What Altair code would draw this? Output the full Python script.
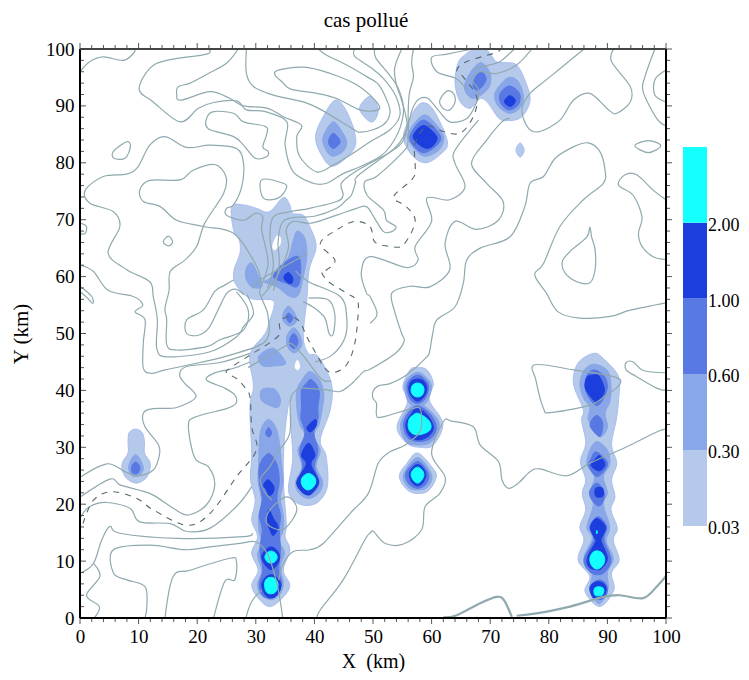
import altair as alt
import pandas as pd

TITLE = "cas pollué"
LEVEL_LABELS = ["0.03", "0.30", "0.60", "1.00", "2.00"]
LEVEL_COLORS = ["#b5c9ea", "#88a6e8", "#5878e4", "#1c3edc", "#14ffff"]
MAJOR = list(range(0, 101, 10))
MINOR = [v for v in range(0, 101, 2) if v % 10]

# ---- open terrain contours (km) ----
C_A = [(0,96),(1.7,97.8),(4,98.6),(7.4,98),(9.1,99.2),(9.4,100)]
C_ALPHA = [(21.9,100),(21.6,99.1),(14.8,98),(11.9,96.6),(10.1,92.9),(12.5,90.7),(17.1,87.2),(20.2,89.6),(22.8,90.6),(26.7,90.9),(28.4,89.3),(31.6,89),(35.3,87.2),(35,83.1),(36.4,78.4),(39.8,76.4),(42.1,76.4),(44.9,78.1),(47.8,79.3),(51.2,81.1),(53,83),(54.6,86.1),(55.2,89.6),(54.3,93.1),(52.6,95.7),(50.5,98.4),(50.3,100)]
C_BETA = [(27,100),(25,97.5),(21.9,95.7),(18.8,94),(16.8,93.4),(16.5,92.2),(17.2,91),(22.2,92.5),(25.6,91.3),(27.9,90),(31.9,89.6),(34.7,88.1),(37.8,86.6),(37,84.6),(37.5,81.1),(40.4,78.4),(43.2,79.6),(46.6,81.7),(49.5,83.7),(52.9,85.8),(54.6,88.4),(53.8,91.9),(51.8,94.8),(49.8,96.6),(46.9,98.7),(46.9,100)]
C_N1 = [(28.4,100),(28.4,95.7),(29.6,93.4),(33,91.9),(38.1,90.7),(41.2,89.3),(46.8,85.8),(47.8,85.4),(50,85.8),(52,86.9),(52.9,88.7),(52.6,90.4),(51,93.7),(49,95.1),(45.5,97.2),(42.1,98.9),(40.7,100)]
C_TOWER1 = [(54.9,100),(53.7,96.6),(54,93.7),(54.8,91.3),(55.8,87),(55.2,84),(53.1,82),(46.9,78.4),(44.6,76.4),(44.9,74.3),(43.8,73.2),(39.2,72),(35.8,71.4),(33,70.5),(32.4,67),(33,62),(32,58)]
C_TOWER2 = [(77.1,100),(74.5,97.2),(71.1,95.7),(68.3,96),(66.8,94.8),(68,92.8),(67.7,90.7),(66,87.8),(63.1,87.2),(61.1,89.3),(59.4,91.3),(58,91.3),(56.9,89.9),(56.2,87.5),(55.4,85),(53.6,82.5),(47.5,77.8),(47,76.4),(46.3,74.3),(45.5,73.5),(43.8,72),(40,70.6),(36.5,70.4),(34.5,69.5),(33.8,66),(34,62),(33,57.5)]
C_TOWER3 = [(56.9,100),(56.6,97.5),(56.9,95.1),(56.2,92.2),(56,88.7),(56,84),(55.2,82),(50.6,77.6),(48.6,76.7),(49,74.3),(51.8,71.7),(52.3,69.9),(53.9,68.8),(53.2,67.9),(51.8,67.9),(50.3,70.2),(48.9,72.3),(47.2,72),(43.8,70.8),(39.5,69.4),(36.4,69.7),(35.2,68.2),(35.6,65.3),(34.7,62.3),(33,59),(31,56.5)]
C_DELTA = [(0.1,62),(2.3,60.9),(4.8,57.6),(9.1,56.5),(10.7,55),(9.4,53.8),(11.1,52.4),(10.8,48.3),(10.8,43.9),(12.2,43),(14.5,43.6),(20.5,44.9),(25.6,46.2),(31.6,48.6),(32.1,53),(31,56.2),(30.7,57.6),(32.1,62.3),(31,68.2),(31.2,70.5),(29.9,71.1),(27.9,69.9),(25,70.8),(25,72),(26.2,72.6),(27.6,75.8),(27.9,79.9),(26.7,82.5),(22.2,83.1),(18.2,82.7),(14.5,84.6),(11.9,83.1),(9.9,79.3),(7.9,78),(4,77.6),(0.9,75.2),(1.7,72.9),(5.7,71.4),(6.8,68.8),(4.8,64.1),(8,61.2),(11.9,59.1),(12.5,56.5),(13.2,52.4),(13.1,47.4),(14.8,45.9),(22.2,46.8),(26.7,49.4),(27.9,51.2),(29.6,53.5),(28.5,56.8)]
C_EPSILON = [(26.7,57.3),(28.7,54.1),(27.9,50.6),(23.9,48.9),(21.6,47.7),(16.5,47.1),(14.8,48),(14.8,52.4),(14.5,54.4),(15.2,57.6),(15.4,60.9),(17.9,62.9),(19.9,65.3),(21.3,69.4),(24.5,74.6),(24.9,77.6),(23,79.7),(19.3,78.7),(17.1,77),(11.9,76.9),(10.2,75.2),(10.8,73.2),(13.7,72.3),(16.5,69.9),(21,68.8),(26.2,67.6),(29.9,62.3),(31,58.8)]
C_U = [(26.2,59.4),(24.7,58.5),(23,57.4),(21,54.1),(18.2,52.4),(18.2,50),(20.2,49.7),(22,51),(23.5,54),(25,57),(26.5,57.8),(28,56.8)]
C_LAMBDA = [(0.1,21.3),(5.1,24.4),(6.8,23.4),(9.95,22.5),(12.5,21.6),(15.9,19.3),(18.5,18.1),(21.6,19.9),(23,23.4),(21.9,26.6),(19.6,28.1),(18.5,33.9),(19.9,35.4),(25,36.8),(26.6,37.7),(26.4,39.2),(24.7,40.4),(21.6,41.8),(22.8,43),(26.2,43.9),(29,45)]
C_KAPPA = [(0.1,24.8),(4.6,27.1),(7.7,25.7),(9.9,25),(12.5,26),(13.5,28.4),(13.4,30.4),(11.1,33.6),(10.8,36),(12.5,36.8),(16.5,37),(19.8,38.9),(17.9,41.2),(17,42.7),(18.2,44.2),(23.9,44.9),(29,46.5)]
C_B = [(0.1,17.8),(1.7,19.6),(4.5,20.3),(8.5,19.3),(10.2,16.9),(15.4,16.6),(18.2,15.2),(22.2,15.8),(26.7,19.6),(29.3,23.1)]
C_F = [(0.1,7.9),(2.3,9.6),(3.7,13.7),(5.1,16.1),(6.8,14.9),(16.5,14),(27.9,14.3),(29.3,14.9)]
C_G = [(2.4,0),(3.3,2),(1.1,4),(3.4,7.3),(2.3,9.6)]
C_D = [(11.1,0),(11.4,2),(11.1,5.5),(8,6.7),(5.7,7.9),(5.7,12),(11.9,12.8),(17.9,12),(22.2,12.5),(27.3,13.1),(29.9,13.4),(31.9,11.4),(33.6,6.1),(34.6,0)]
C_E = [(14.5,0),(15.9,7.3),(18.8,8.4),(25.6,10.5),(26.7,9.9),(26.4,6.7),(24.7,6.4),(22.8,0)]
C_H = [(28.3,0),(29.3,2.9),(31,4.9)]
C_BIG = [(100,55.4),(93.9,54.1),(90.5,53),(85.3,52.7),(81.6,53.8),(79.6,57.1),(77.6,60.3),(79.1,62.3),(81.9,68.8),(85.9,73.5),(89.3,76.4),(89.6,78.7),(88.7,82),(86.7,83.5),(84.2,82.8),(81.1,80.8),(79.1,77.6),(76.8,76.4),(75.9,72.3),(73.4,67),(68.3,65),(66,62.9),(65.4,58.8),(64,54.7),(60.9,52.4),(60.2,50),(59.7,47.1),(59.2,45.9),(55.7,42.7),(52.9,41.2),(50.9,40.8),(50,39.8),(50,38.6),(50.6,37.7),(50.6,35.7),(51.5,35.3),(56.6,36.8),(58,36.8),(58.3,34.8),(58,32.7),(55.5,30.4),(52.9,29.2),(50.9,27.2),(49.2,21.9),(46.1,18.4),(41.5,13.1),(39.2,12),(36.4,11.7),(34.7,9.6),(33.9,6.7)]
C_R = [(100,33.2),(98.4,32.7),(93.3,30.1),(87,27.2),(83.1,25),(78.5,26.2),(76.8,25.7),(74.8,23.7),(73.1,22.8),(72,24.3),(71.4,27.5),(68.3,30.4),(67.1,33.6),(63.4,34.6),(62,34.5),(60,28.9),(62.3,24.8),(61.4,21.9),(58.9,19.6),(58.3,15.5),(55.2,13),(52.1,13.1),(50.1,15.2),(49.5,14.9),(48.6,13.7),(44.9,6.7),(41,1.4),(40.5,0)]
C_Z4R = [(100,43.1),(96.1,43.5),(94.4,45),(93.2,44.9),(93.2,43.6),(95,42.4),(98.4,40.4),(100,40)]
C_TOPR = [(86,100),(80.2,95.1),(76.8,92.2),(75.4,89.3),(76.5,86.1),(78.5,85.5),(81.9,87.5),(84.2,91),(87,92.2),(90.2,89.3),(91.6,88.7),(93.9,90.7),(93.9,93.4),(90.7,97.8),(91.1,100)]
C_TR2 = [(98.1,100),(96.4,95.1),(96.1,92.5),(98.4,87.8),(100,86.5)]
C_TR3 = [(100,96.3),(98.1,94.6),(98.1,91.9),(100,90.7)]
C_RM = [(100,73.5),(97.8,75.2),(95,77.9),(93,77.9),(91.9,76.1),(94.4,74.3),(95.9,70.5),(95.3,67.6),(95.9,65.3),(97.8,63.5),(100,63)]
C_M = [(73.4,87.8),(72,87.2),(69.4,84),(66.8,79.9),(69.4,76.4),(72.2,73.2),(71.4,69.9),(67.7,68.3),(64,69.7),(62.3,65.8),(63.1,61.2),(59.7,58.2),(56.3,58.3),(53.2,57.1),(53.8,53.5),(54.9,50),(55.3,48.6),(53.8,46.5),(49.5,43.7),(48.4,43.3),(46.4,41.2),(44.4,39.8),(42.1,40.1),(38.1,40.4),(37,40.1),(35.9,38.3),(35.8,32.5),(33.8,29.2),(32.4,26.6),(30.8,24.5),(31.3,22.5),(32.7,20.7)]
C_N = [(68,87.5),(64,82.2),(64,79.9),(65.7,75.8),(63.1,73.5),(59.2,73.8),(60,69.7),(57.2,65.3),(57.7,62.9),(55.7,61.6),(49.5,63.5),(48,60.6),(48.9,57.1),(49.5,56.5),(50.7,53.5),(49.5,51.8)]
C_T = [(67.1,100),(62.6,99.1),(60,98.5),(60.9,96),(64.2,94.8),(66,92.8)]
C_V = [(74.1,100),(71.7,97.8),(69.9,97.2),(67.1,96.5)]
C_R1 = [(40.1,45),(43,46.2),(45.2,49.2),(45.5,53),(44.4,56.5),(39,59.1),(36.8,61)]
C_R2 = [(38.1,55.6),(40.1,54.4),(41.8,52.7),(42.5,50),(43.2,49.9),(43.5,53.3),(42.4,55.9),(39,56.2)]
C_R3 = [(38.8,64),(34.7,61.7),(30.7,59.4),(29.3,57.9)]
C_Z3 = [(28.7,44),(34.7,47.6),(36.1,48.2),(38.1,46.1),(41.2,42),(42.9,41.7)]
C_LEFT1 = [(0.1,69.4),(1.1,68.8),(0.9,67.6),(0.1,67.5)]
C_LEFT2 = [(0.1,58.2),(2,56.5),(2.2,55.3),(1.2,56.3),(0.1,57.3)]
OPEN_CONTOURS = [C_A,C_ALPHA,C_BETA,C_N1,C_TOWER1,C_TOWER2,C_TOWER3,C_DELTA,C_EPSILON,C_U,C_LAMBDA,C_KAPPA,C_B,C_F,C_G,C_D,C_E,C_H,C_BIG,C_R,C_Z4R,C_TOPR,C_TR2,C_TR3,C_RM,C_M,C_N,C_T,C_V,C_R1,C_R2,C_R3,C_Z3,C_LEFT1,C_LEFT2]

# ---- closed contours ----
L_1 = [(33.3,96),(38.1,96.8),(42.7,95.7),(47.2,93.7),(50.6,90.7),(50.9,89.3),(47.8,89.3),(43.8,91.3),(40.4,92.2),(36.1,92.9),(34.7,94)]
L_2 = [(21.6,87.8),(22.8,89),(26.2,88.7),(27.9,87.2),(31.6,86.4),(31.9,85.2),(31.2,82.8),(32.1,82),(31.9,81.1),(29.9,80.8),(27.9,83.1),(26.2,84.6),(21.9,86)]
L_3 = [(5.7,82),(8,83.7),(8.6,82.8),(7.7,80.8),(5.8,80.8)]
L_4 = [(31,77),(34.7,76.4),(35.2,75.5),(33.8,73.8),(31.3,73.8)]
L_5 = [(14.2,66.1),(15.1,67.1),(15.8,66.1),(15.1,65.4)]
L_6 = [(61.4,91),(62.6,92.6),(63.7,92.2),(64,90.7),(63.1,89.3),(61.9,89.6)]
L_7 = [(94.7,83),(97,83.9),(99.1,83),(97,81.8)]
L_8 = [(87,68.7),(87.3,67),(87.9,64.7),(87.9,61.2),(87,58.9),(84.8,59.1),(82.8,60.6),(82.3,62.6),(83.6,64.4),(86.5,67)]
L_9 = [(77.6,44.5),(84.2,43.6),(92.2,41.9),(88.7,38.3),(85.9,37.1),(80.2,36.1),(79.1,36.8),(77.8,41.8)]
L_10 = [(35.3,21.3),(37,19),(34.7,15.6),(31.9,16.6),(32.4,19)]
CLOSED_CONTOURS = [L_1,L_2,L_3,L_4,L_5,L_6,L_7,L_8,L_9,L_10]

# ---- coast ----
COAST_1 = [(62,0.1),(64.3,0.5),(68.3,2.6),(71.1,3.7),(72.3,3.2),(73.7,0.2)]
COAST_2 = [(74.5,0.4),(77.9,0.8),(83.6,2),(89.3,3.7),(92.1,4),(96.1,3.5),(98.4,5.5),(100,7.4)]
COASTS = [COAST_1, COAST_2]

# ---- dashed contour ----
DASHED = [(0.5,16.6),(2.3,20.7),(5.4,22.2),(9.7,21),(12.5,19),(18.2,16.3),(22.2,18.4),(26.7,24.8),(30.1,29.5),(29.3,33.6),(29,38.9),(28,40.7),(26.7,42.1),(25,43.1),(25.6,43.9),(29,46.2),(32.7,48.6),(34.1,50),(34.1,52.1),(35.8,53),(37.5,52.1),(38.7,49.4),(40.1,46.8),(41.8,43.9),(43.2,43.1),(45.5,44.5),(46.9,48.3),(47.5,54.1),(47.2,55.9),(45.5,57.1),(42.4,59.1),(41.2,60.9),(42.1,61.2),(43.5,62.9),(41,65.8),(43.8,68.2),(46.9,69.7),(49.5,68.8),(50.3,66.1),(52.9,65.3),(55.2,65.6),(57.2,69.7),(55.7,72.3),(53.5,74),(56.6,77),(57.2,78.7),(57.2,83.4),(59.2,86.4),(62,85.5),(64.9,85.2),(67.1,88.1),(67.7,91.6),(65.4,95.1),(64.3,96.3),(66,97.8),(70.5,99.2),(71.7,99.8)]

# ---- plume level 1 (0.03-0.30) ----
P1_BIG = [(25.9,72.3),(27.9,72.6),(30.1,72),(32.3,71.4),(34.7,73.9),(35.8,72.6),(36.3,71.1),(38.1,70.8),(39.2,68.8),(40.3,65.3),(39.1,61.2),(38.7,55.9),(38.1,49.4),(39,46.5),(40.7,45.9),(42.9,41.2),(42.7,36.6),(41,31.3),(42,28.4),(42.2,23.1),(40.4,20.2),(37.5,20),(35.6,22.2),(36.3,27.8),(36.1,32.2),(35.8,38.3),(34.9,31.9),(34.7,24.3),(35.2,16.6),(35,14.3),(35.8,12),(34.7,8.4),(35.8,5.8),(34.7,3.7),(32.4,2),(30.4,3.5),(29.3,5.8),(30.4,8.4),(29.3,11.4),(30.3,14.3),(29.3,17.2),(29.9,20.7),(29.1,24.3),(29.3,28.9),(29,37.1),(29.6,40.7),(29,44.8),(29.3,47.1),(31.6,50),(32.4,52.4),(33.1,54.7),(32.7,55.9),(29,56.2),(26.5,58.8),(26.3,61.2),(27.3,64.1),(27.2,66.4),(26.2,68.2)]
P1_10 = [(9.5,33.2),(10.6,32.6),(11,31),(11,29),(11.9,27.5),(11.9,26),(11.2,24.5),(9.6,23.7),(8,24.5),(7.2,26),(7.3,27.5),(8.2,29),(8.2,31),(8.4,32.6)]
P1_58A = [(57.6,44),(59.2,43.6),(60.3,41.2),(59.6,38.3),(61.9,34.2),(60.3,30.4),(58,30),(55.8,30.7),(54.1,33.6),(55.9,38),(55.1,40.7),(56.3,43.6)]
P1_58B = [(57.6,29),(60,26.6),(60.8,24.8),(59.2,22.2),(56.3,22.2),(54.5,24.8),(55.8,27.2)]
P1_88 = [(87.6,46.5),(89.3,45.6),(91.9,42.4),(91.9,38.3),(91.5,34.8),(90.7,30.4),(91.6,27.2),(90.7,24.3),(91.3,21.3),(90.6,19),(91.7,15.8),(91,13.7),(92,10.2),(90.7,7.9),(91.1,4.9),(88.7,2),(86.2,4.6),(87,7.3),(85,10.2),(86,13.7),(85.3,16),(86.3,19),(85.7,21.9),(86.3,24.3),(85.4,27.5),(86.3,30.7),(85.6,34.8),(85.9,36.6),(84.2,41.2),(85,44.8)]
P1_58T = [(58.3,90.5),(60.3,89.3),(62.7,83.7),(61.4,81.4),(58.9,80),(56.6,81.4),(55.2,84.6),(56.6,88.4)]
P1_70 = [(67.1,99.8),(69.4,99.8),(71,97.8),(72.8,97.6),(74.5,97.2),(75.9,94.6),(76.8,91),(75.3,88),(72.8,87.4),(71.4,87.9),(69.7,90.4),(68.3,91.3),(66.6,89.6),(64.9,90.7),(64,93.9),(64.5,97.5),(65.7,99)]
P1_75 = [(75.1,83.5),(75.8,82.2),(75.1,81),(74.4,82.2)]
P1_44 = [(43.5,91),(45.2,89.6),(46.9,85.2),(46.6,82.2),(43.2,79.4),(41.2,81.4),(40.2,84.6),(41.5,88.1)]
P1_50 = [(49.5,91.7),(50.9,89.6),(50.3,87.5),(49.2,87.4),(47.7,89.6)]
LEVEL1 = [P1_BIG,P1_10,P1_58A,P1_58B,P1_88,P1_58T,P1_70,P1_75,P1_44,P1_50]

HOLE_1 = [(32.9,65.5),(33.6,67.1),(34.2,66.8),(34.1,65.6),(33.2,64.7)]
HOLE_2 = [(37.1,45.3),(37.5,44.2),(37.1,43.6),(36.7,44.2)]
HOLES = [HOLE_1, HOLE_2]

# ---- plume level 2 (0.30-0.60) ----
P2 = [
 [(37.1,68),(38.4,66.7),(38.7,63.5),(38.1,60),(37.3,56.8),(35.8,56.5),(33.6,58.2),(31.3,59.1),(32.4,59.7),(35.3,62.9),(36.4,66.4)],
 [(29.3,62.4),(30.4,60.3),(31,58.2),(29.3,58.2),(28.3,59.7),(28.4,61.5)],
 [(35.6,54.8),(36.6,53.6),(37,52.2),(35.8,51.3),(34.7,52.2),(34.7,53.6)],
 [(36.5,51),(37.6,49.5),(37.8,47.8),(36.6,46.6),(35.5,47.5),(35.3,49.5)],
 [(33,47.4),(34.6,45.8),(35,44.6),(33,44.3),(31.2,44.3),(30.4,45.6),(31.2,46.7)],
 [(31.3,40.3),(33.2,40.2),(34.2,38.5),(33.8,37),(32.5,37.3),(31,38.2),(30.8,39.5)],
 [(32.2,34.9),(33.4,33.5),(34,31),(34.4,27),(34.7,24),(34.2,21),(34.7,18),(34.7,15.5),(34,13.5),(34.9,11.5),(34.2,9),(34.7,6),(34,4),(32.5,3.2),(30.8,4.2),(30.3,6),(31,8.3),(30.3,11),(31,13.3),(30.5,15.5),(30.5,18),(31,20.5),(30.4,24),(30.5,27),(30.6,31),(31,33.5)],
 [(39.2,43.3),(40.8,42),(41.6,39.5),(41.3,36.5),(40.8,34),(39.9,32),(41,29.5),(40.3,26.6),(41.4,24),(40.8,22),(39,21),(37.3,22),(36.8,24),(37.9,26.6),(37.2,29.5),(38.4,32),(37.5,34),(37,37),(37,40),(38,42)],
 [(9.5,28.7),(10.4,27.6),(10.8,26.2),(10.2,25.1),(9.5,24.9),(8.8,25.1),(8.3,26.2),(8.6,27.6)],
 [(57.6,43.2),(59.2,42.2),(60,40.6),(59.2,38),(57.6,37),(56,38),(55.4,40.6),(56,42.2)],
 [(57.6,37.8),(60.2,36),(61.3,33.8),(60,31),(57.8,30.4),(55.6,31),(54.7,33.8),(55.7,36.2)],
 [(57.6,28.2),(60,25.2),(59.3,23),(57.6,22.5),(56,23),(55.2,25.2)],
 [(87.7,44.6),(90,43.5),(90.6,41),(90.4,38),(89.6,36),(90,33.5),(88.8,31.8),(87.6,33.5),(86.7,35),(87,37),(86,38.5),(85.3,41),(86,43.5)],
 [(88.2,31),(90,29.5),(90.4,27),(89.3,24.8),(90,22),(89.3,20),(90.4,16),(89.8,13.5),(91,10.5),(90,8),(90.1,5),(88.6,2.5),(87,5),(87.4,7.8),(86,10.5),(87.4,14),(86.5,16),(87.6,19.8),(87.2,22.5),(87.8,24.8),(86.5,27),(87,29.5)],
 [(58.6,88.4),(60.9,86.6),(62.1,84.3),(61.1,82.1),(58.6,81.2),(56.6,83.1),(56,85.2)],
 [(68.4,97.6),(70,95.7),(69.7,93.1),(67.1,91.3),(65.6,93.1),(66.5,95.7)],
 [(72.8,94.8),(74.5,94.6),(75.6,92.2),(75.3,89.9),(73.4,88.7),(71.4,89.9),(70.8,92.2)],
 [(43.2,87.2),(44.7,85.5),(45.5,83.7),(44.9,82),(42.9,81.2),(41.6,83.1),(41.6,84.9)],
]

# ---- plume level 3 (0.60-1.00) ----
P3 = [
 [(37.3,63.5),(37.6,60),(37,58.2),(35.3,58.8),(33,60),(34.7,62.3)],
 [(35.6,53.6),(36.3,52.8),(35.8,51.9),(35.2,52.8)],
 [(36.5,50),(37.2,48.7),(36.7,47.4),(35.9,47.8),(35.8,49)],
 [(32.2,28.9),(33.6,27),(34,24),(33.6,21),(34.2,18),(34,15.5),(34.2,12),(33.9,8.5),(34.4,6),(33.6,4),(32.3,3.5),(31.1,4),(30.6,6),(31.2,8.5),(30.7,12),(31.1,15.5),(30.6,18),(31.1,21),(30.6,24),(30.7,27)],
 [(32.2,33.5),(32.7,32.5),(32.2,31.8),(31.7,32.5)],
 [(39.5,41.9),(40.8,40),(40.6,37),(40.6,35),(39.9,32.5),(40.6,29.5),(40,26.6),(40.8,24),(40,22.2),(39,21.8),(37.9,22.2),(37.3,24),(38,26.6),(37.5,29.5),(38.4,32.5),(37.7,35),(37.8,37),(37.8,40),(38.6,41.2)],
 [(9.5,27.4),(10.2,26.6),(10,25.6),(9.5,25.3),(8.9,25.6),(8.8,26.6)],
 [(57.6,42.7),(59,41.8),(59.5,40.4),(58.8,38.4),(57.6,37.7),(56.4,38.4),(55.8,40.4),(56.2,41.8)],
 [(57.6,37.3),(59.8,35.8),(60.8,33.5),(59.9,31.6),(57.8,31),(55.9,31.7),(55.2,34),(56,36)],
 [(57.6,27.5),(59.4,25.5),(59.1,23.6),(57.6,22.8),(56.1,23.6),(55.6,25.5)],
 [(87.7,43.6),(89.4,42.6),(90,40.5),(89,38),(88,37.4),(86.8,38.8),(86.2,40.5),(86.5,42.6)],
 [(88.3,35.6),(89.2,34.2),(88.7,31.9),(87.1,33.6),(87.4,34.9)],
 [(88,29.2),(89.6,28),(90,26.8),(88.9,25.2),(87.9,25),(86.8,26.8),(87.2,28)],
 [(88.3,23.7),(89.5,21.8),(89,20),(88.2,19.8),(87.2,21),(87,22.4)],
 [(88.4,17.8),(89.9,16),(89.4,13.8),(90.6,10.3),(89.7,8.2),(88.3,7.6),(86.9,8.2),(86,10.3),(87.7,13.8),(87,16)],
 [(88.6,6.7),(89.7,6.1),(90,4.8),(89.6,3.7),(88.7,3.3),(87.8,3.7),(87.3,4.8),(87.6,6.1)],
 [(58.7,87.5),(61.6,84.3),(58.9,81.8),(56.8,83.1),(56.4,85)],
 [(68.5,96),(69.3,94.6),(68,92.8),(67.1,93.4),(67.4,94.9)],
 [(73.3,93.5),(75,92.2),(74.8,90.2),(73.1,89.3),(71.8,90.5),(71.7,92.2)],
 [(43.2,85.2),(44.4,83.7),(43.2,82.5),(42.4,83.7)],
]

# ---- plume level 4 (1.00-2.00) ----
P4 = [
 [(35.6,60.7),(36.3,59.7),(36.1,58.8),(35.2,59.1),(34.8,60)],
 [(32.1,24.3),(33.1,23),(32.8,21.8),(32.2,21.6),(31.8,22.6),(31.3,23.3)],
 [(32.2,19),(33,17.5),(33.8,16),(33,14.5),(32.4,15.5),(32,17)],
 [(32.6,12.5),(33.6,11.9),(34.1,10.7),(33.6,9.3),(32.6,8.5),(31.6,9.3),(31,10.7),(31.6,11.9)],
 [(32.6,7.6),(33.7,7),(34.3,5.7),(33.7,4.1),(32.6,3.5),(31.6,4.1),(31,5.7),(31.5,7)],
 [(40.2,34.9),(40.3,33.8),(39.3,32.7),(38.7,33.4),(39.3,34.2)],
 [(39,30.7),(40.1,28.6),(39.4,27),(40.7,24),(39.8,22.2),(39,21.6),(37.8,22.2),(37,24),(38.6,27),(37.8,28.6)],
 [(57.6,42),(58.7,41.6),(59.2,40.3),(58.7,38.9),(57.6,38.1),(56.6,38.9),(56.1,40.3),(56.5,41.6)],
 [(57.6,36.9),(59.4,35.5),(60.3,33.5),(59.5,32),(57.8,31.3),(56.2,32),(55.6,34),(56.4,35.7)],
 [(57.6,27),(58.5,26.4),(59,25.3),(58.6,23.9),(57.6,23.2),(56.6,23.9),(56.2,25.3),(56.7,26.4)],
 [(87.6,42.7),(88.6,42.5),(89.5,40),(88.5,38.2),(88,38),(87.2,38.8),(86.2,40.5),(86.5,42.3)],
 [(88.7,28.5),(89.6,27),(88.8,25.9),(87.8,26.2),(87.2,27),(88,28)],
 [(88,22.8),(89.2,22.8),(89.2,21.4),(88,21.4)],
 [(88.2,17.5),(89.7,16),(89,14),(89,13.3),(90,10.5),(89,8.7),(88,8.5),(86.8,9),(86.6,10.7),(88,13.4),(87.8,14),(87.1,16)],
 [(88.4,6.4),(89.4,6),(89.8,5),(89.2,3.5),(88.4,3.4),(87.6,3.5),(87,5),(87.4,6)],
 [(58.9,86.5),(60.9,84.5),(60,82.8),(58.6,82.7),(56.9,84.3),(57.5,85.8)],
 [(73.3,91.8),(74.3,91),(73.5,89.9),(72.4,90.7)],
]

# ---- plume level 5 (> 2.00) ----
P5 = [
 [(32.6,11.75),(33.3,11.45),(33.65,10.7),(33.3,9.95),(32.6,9.65),(31.9,9.95),(31.55,10.7),(31.9,11.45)],
 [(32.5,7.15),(33.4,6.8),(33.8,5.8),(33.4,4.6),(32.5,4.25),(31.8,4.6),(31.5,5.7),(31.7,6.7)],
 [(39,25.4),(39.9,24.9),(40.25,24),(39.8,23),(38.9,22.5),(38.1,23),(37.75,24),(38.1,24.9)],
 [(57.6,41.3),(58.4,40.95),(58.7,40.1),(58.4,39.2),(57.6,38.85),(56.8,39.2),(56.5,40.1),(56.8,40.95)],
 [(57.5,36),(58.6,35.5),(59.6,34.6),(59.9,33.5),(59.3,32.7),(57.8,32.2),(56.6,32.5),(56,33.6),(56.2,35),(56.8,35.6)],
 [(57.6,26.5),(58.3,26.1),(58.7,25.2),(58.3,24.2),(57.6,23.7),(56.9,24.2),(56.5,25.2),(56.9,26.1)],
 [(88.2,11.8),(89.1,11.4),(89.55,10.3),(89.1,9.1),(88.2,8.6),(87.4,9.1),(87,10.3),(87.4,11.4)],
 [(88.2,15.4),(88.3,15),(88.2,14.8),(88.1,15)],
 [(88.5,5.5),(89.2,5.3),(89.4,4.7),(89.1,4),(88.5,3.9),(87.9,4),(87.7,4.7),(87.9,5.3)],
]


def table(paths):
    rows = []
    for pid, path in enumerate(paths):
        for i, (x, y) in enumerate(path):
            rows.append({"id": pid, "i": i, "x": x, "y": y})
    return pd.DataFrame(rows)


FONT = "Liberation Serif"
XS = alt.Scale(domain=[0, 100], nice=False, zero=False)
YS = alt.Scale(domain=[0, 100], nice=False, zero=False)
X = alt.X("x:Q", scale=XS, axis=None)
Y = alt.Y("y:Q", scale=YS, axis=None)


def paths_layer(paths, **mark):
    return alt.Chart(table(paths)).mark_line(**mark).encode(
        x=X, y=Y, detail="id:N", order="i:Q"
    )


def fill_layer(paths, color, stroke=None, interp="cardinal-closed"):
    return paths_layer(paths, fill=color, stroke=stroke or color,
                       strokeWidth=1, interpolate=interp, clip=True)


CONTOUR = "#8fa9af"
layers = [
    fill_layer(LEVEL1, LEVEL_COLORS[0], stroke="#a9bdf2"),
    fill_layer(HOLES, "#ffffff"),
    fill_layer(P2, LEVEL_COLORS[1]),
    fill_layer(P3, LEVEL_COLORS[2]),
    fill_layer(P4, LEVEL_COLORS[3]),
    fill_layer(P5, LEVEL_COLORS[4]),
    paths_layer(OPEN_CONTOURS, stroke=CONTOUR, strokeWidth=1.2, interpolate="cardinal", clip=True),
    paths_layer(CLOSED_CONTOURS, stroke=CONTOUR, strokeWidth=1.2, interpolate="cardinal-closed", clip=True),
    paths_layer(COASTS, stroke=CONTOUR, strokeWidth=2.2, interpolate="cardinal", clip=True),
    paths_layer([DASHED], stroke="#56696e", strokeWidth=1.1, strokeDash=[6, 6], interpolate="cardinal", clip=True),
]

major_df = pd.DataFrame({"v": MAJOR})
minor_df = pd.DataFrame({"v": MINOR})
VX = alt.X("v:Q", scale=XS, axis=None)
VY = alt.Y("v:Q", scale=YS, axis=None)
TICK = "#555555"
W, H = 586, 569
for df, size in ((major_df, 6), (minor_df, 4)):
    layers.append(alt.Chart(df).mark_rule(color=TICK, strokeWidth=1).encode(x=VX, y=alt.value(H), y2=alt.value(H + size)))
    layers.append(alt.Chart(df).mark_rule(color=TICK, strokeWidth=1).encode(x=VX, y=alt.value(0), y2=alt.value(-size)))
    layers.append(alt.Chart(df).mark_rule(color=TICK, strokeWidth=1).encode(y=VY, x=alt.value(0), x2=alt.value(size)))
    layers.append(alt.Chart(df).mark_rule(color=TICK, strokeWidth=1).encode(y=VY, x=alt.value(W), x2=alt.value(W + size)))

layers.append(alt.Chart(major_df).mark_rule(color="#000000", strokeWidth=1.6).encode(x=alt.value(0), y=alt.value(0), y2=alt.value(H)))
layers.append(alt.Chart(major_df).mark_rule(color="#000000", strokeWidth=1.6).encode(x=alt.value(W), y=alt.value(0), y2=alt.value(H)))
layers.append(alt.Chart(major_df).mark_rule(color="#000000", strokeWidth=1.6).encode(y=alt.value(H), x=alt.value(0), x2=alt.value(W)))
layers.append(alt.Chart(major_df).mark_rule(color="#444444", strokeWidth=1.6).encode(y=alt.value(0), x=alt.value(0), x2=alt.value(W)))

main = alt.layer(*layers)

# axes with labels only (own layer at the outer level, same domain)
axes = alt.Chart(major_df).mark_point(opacity=0).encode(
    x=alt.X("v:Q", scale=XS, axis=alt.Axis(values=MAJOR, format="d", ticks=False, domain=False, grid=False,
                                           labelFont=FONT, labelFontSize=19, labelColor="#000000", labelPadding=9,
                                           labelFlush=False, labelOverlap=False, title="X \u00a0(km)", titleFont=FONT,
                                           titleFontSize=20, titleFontWeight="normal", titleColor="#000000", titlePadding=5)),
    y=alt.Y("v:Q", scale=YS, axis=alt.Axis(values=MAJOR, format="d", ticks=False, domain=False, grid=False,
                                           labelFont=FONT, labelFontSize=19, labelColor="#000000", labelPadding=6,
                                           labelFlush=False, labelOverlap=False, title="Y (km)", titleFont=FONT,
                                           titleFontSize=21, titleFontWeight="normal", titleColor="#000000", titlePadding=14)),
)

# colour bar
bar_df = pd.DataFrame({"lo": [0, 1, 2, 3, 4], "hi": [1, 2, 3, 4, 5], "c": LEVEL_COLORS, "label": LEVEL_LABELS})
BAR_Y = alt.Scale(domain=[0, 5], range=[477, 98], nice=False, zero=False)
bar = alt.Chart(bar_df).mark_rect().encode(
    x=alt.value(603), x2=alt.value(627),
    y=alt.Y("lo:Q", scale=BAR_Y, axis=None), y2="hi:Q",
    fill=alt.Fill("c:N", scale=None),
)
bar_text = alt.Chart(bar_df).mark_text(font=FONT, fontSize=18, align="left", baseline="middle", color="#000000", dy=3).encode(
    x=alt.value(628), y=alt.Y("lo:Q", scale=BAR_Y, axis=None), text="label:N"
)

chart = alt.layer(main, axes, bar, bar_text).resolve_scale(y="independent", x="independent").properties(
    width=W, height=H,
    title=alt.TitleParams(TITLE, font=FONT, fontSize=21, fontWeight="normal", color="#000000", dx=-7, offset=9),
    padding={"left": 72, "top": 41, "right": 75, "bottom": 54},
    autosize=alt.AutoSizeParams(type="none"),
).configure_view(stroke=None)

chart.save("out.html", embed_options={"renderer": "svg", "actions": False})
